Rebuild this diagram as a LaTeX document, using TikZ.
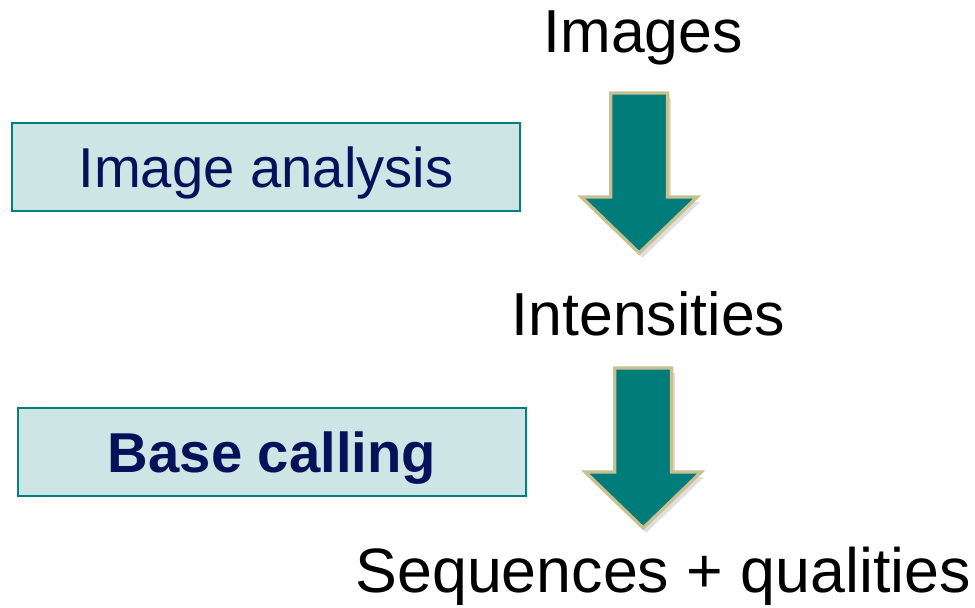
\documentclass[tikz,border=0pt]{standalone}
\usepackage{fontspec}
\setmainfont{Liberation Sans}
\usetikzlibrary{positioning,shadows}
\definecolor{PipeTeal}{RGB}{0,124,122}
\definecolor{PipeEdge}{RGB}{0,128,126}
\definecolor{PipeFill}{RGB}{205,229,229}
\definecolor{PipeNavy}{RGB}{5,17,88}
\definecolor{PipeTan}{RGB}{200,192,142}

\begin{document}
\begin{tikzpicture}[
  stepbox/.style={draw=PipeEdge,fill=PipeFill,line width=1pt,minimum width=6.35cm,
                  minimum height=1.1cm,text=PipeNavy,font=\fontsize{20}{24}\selectfont,
                  text height=0.52cm,text depth=0pt,inner sep=0pt},
  stage/.style={anchor=base,font=\fontsize{21.6}{26}\selectfont,inner sep=0pt},
  blockarrow/.style={fill=PipeTeal,draw=PipeTan,line width=1.2pt,line join=miter,
                     drop shadow={shadow xshift=0.04cm,shadow yshift=-0.06cm,opacity=0.25}},
]
\useasboundingbox (0,0) rectangle (12.1875,-7.6);

% data levels
\node[stage] (images) at (8.04,-0.6625) {Images};
\node[stage] (intens) at (8.106,-4.2) {Intensities};
\node[stage,font=\fontsize{22.3}{27}\selectfont] (seqs) at (8.29,-7.4) {Sequences + qualities};

% processing steps
\node[stepbox] (imgana) at (3.325,-2.0875) {Image analysis};
\node[stepbox] (basecall) at (3.4,-5.65) {\textbf{Base calling}};

% block arrows: shaft centre x, shaft top
\foreach \ax/\ay in {7.99/-1.1625, 8.04/-4.6}{
  \draw[blockarrow] (\ax-0.355,\ay) -- (\ax+0.355,\ay) -- (\ax+0.355,\ay-1.3)
    -- (\ax+0.725,\ay-1.3) -- (\ax,\ay-2.0) -- (\ax-0.725,\ay-1.3)
    -- (\ax-0.355,\ay-1.3) -- cycle;
}
\end{tikzpicture}
\end{document}
